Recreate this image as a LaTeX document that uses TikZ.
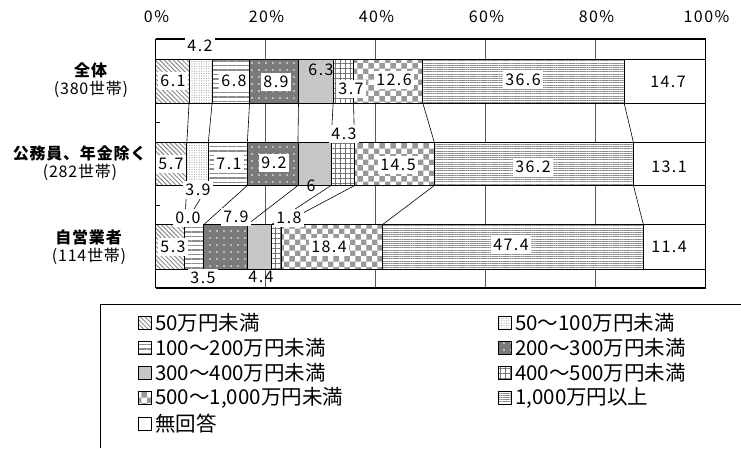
\documentclass[tikz,border=0pt]{standalone}
\usepackage{fontspec}
\setmainfont{Noto Sans CJK JP}
\newfontfamily\numfont[LetterSpace=9]{Noto Sans CJK JP}
\newfontfamily\catfont[LetterSpace=5]{Noto Sans CJK JP}
\usetikzlibrary{patterns,patterns.meta}

% percent -> x position on the bar axis
\newcommand{\xpc}[1]{155.5+5.5*#1}

\tikzset{
  seg/.style={draw=black, line width=0.9pt, preaction={fill=white}},
  under50/.style={seg, pattern={Lines[angle=-45,distance=3.2pt,line width=1pt]}, pattern color=black!45},
  from50/.style={seg, pattern={Dots[distance=2.4pt,radius=0.55pt]}, pattern color=black!40},
  from100/.style={seg, pattern={Lines[angle=0,distance=4.5pt,line width=1.8pt]}, pattern color=black!45},
  from200/.style={draw=black, line width=0.9pt, preaction={fill=black!52}, pattern={Dots[distance=7pt,radius=0.9pt]}, pattern color=white},
  from300/.style={draw=black, line width=0.9pt, fill=black!22},
  from400/.style={seg, pattern={Hatch[angle=0,distance=5pt,line width=0.8pt]}, pattern color=black!55},
  from500/.style={seg, pattern=checkerboard, pattern color=black!40},
  over1000/.style={seg, pattern={Lines[angle=0,distance=2.2pt,line width=0.9pt]}, pattern color=black!45},
  noans/.style={draw=black, line width=0.9pt, fill=white},
  val/.style={fill=white, inner xsep=2.5pt, inner ysep=3pt, font=\numfont\fontsize{16}{16}\selectfont},
  valbare/.style={inner sep=1pt, font=\numfont\fontsize{16}{16}\selectfont},
  axlbl/.style={font=\numfont\fontsize{16}{16}\selectfont},
  cat/.style={align=center, font=\catfont\fontsize{16}{18}\selectfont},
  legtxt/.style={anchor=west, inner sep=0pt, font=\fontsize{20.5}{20.5}\selectfont},
}

\begin{document}
\begin{tikzpicture}[x=1pt, y=-1pt]
  \useasboundingbox (0,0) rectangle (741,448);
  \fill[white] (0,0) rectangle (741,448);

  % grid and frame
  \foreach \p in {20,40,60,80}
    \draw[black!65, line width=0.8pt] ({\xpc{\p}},39) -- ({\xpc{\p}},288);
  \draw[line width=1.2pt] (155.5,39) -- (705.5,39);
  \draw[line width=1.2pt] (155.5,288) -- (705.5,288);
  \draw[line width=1.6pt] (705.5,39) -- (705.5,288);
  \draw[line width=1.8pt] (155.5,39) -- (155.5,288);
  \foreach \y in {122,205}
    \draw[line width=0.8pt] (155.5,\y) -- (160,\y);

  % axis labels
  \foreach \p in {0,20,40,60,80,100}
    \node[axlbl] (ax\p) at ({\xpc{\p}+1},17) {\p\%};

  % series lines
  \foreach \a/\b in {6.1/5.7, 10.3/9.6, 17.1/16.7, 26.0/25.9, 32.3/31.9, 36.0/36.2, 48.6/50.7, 85.2/86.9}
    \draw[line width=0.6pt] ({\xpc{\a}},103) -- ({\xpc{\b}},142.5);
  \foreach \a/\b in {5.7/5.3, 9.6/5.3, 16.7/8.8, 25.9/16.7, 31.9/21.1, 36.2/22.9, 50.7/41.3, 86.9/88.7}
    \draw[line width=0.6pt] ({\xpc{\a}},185.5) -- ({\xpc{\b}},224.5);

  % bars
  \foreach \a/\b/\s in {0/6.1/under50, 6.1/10.3/from50, 10.3/17.1/from100, 17.1/26.0/from200, 26.0/32.3/from300, 32.3/36.0/from400, 36.0/48.6/from500, 48.6/85.2/over1000, 85.2/100/noans}
    \path[\s] ({\xpc{\a}},59) rectangle ({\xpc{\b}},103);
  \foreach \a/\b/\s in {0/5.7/under50, 5.7/9.6/from50, 9.6/16.7/from100, 16.7/25.9/from200, 25.9/31.9/from300, 31.9/36.2/from400, 36.2/50.7/from500, 50.7/86.9/over1000, 86.9/100/noans}
    \path[\s] ({\xpc{\a}},142.5) rectangle ({\xpc{\b}},185.5);
  \foreach \a/\b/\s in {0/5.3/under50, 5.3/5.3/from50, 5.3/8.8/from100, 8.8/16.7/from200, 16.7/21.1/from300, 21.1/22.9/from400, 22.9/41.3/from500, 41.3/88.7/over1000, 88.7/100/noans}
    \path[\s] ({\xpc{\a}},224.5) rectangle ({\xpc{\b}},269.5);

  % values, all households
  \node[val] (a1) at (173,81) {6.1};
  \node[val] (a2) at (200,46) {4.2};
  \node[val] (a3) at (234,81) {6.8};
  \node[val] (a4) at (276,82) {8.9};
  \node[valbare] (a5) at (321,70) {6.3};
  \node[val] (a6) at (351,89) {3.7};
  \node[val] (a7) at (394,80) {12.6};
  \node[val] (a8) at (523,80) {36.6};
  \node[valbare] (a9) at (668,82) {14.7};
  % values, excl. civil servants / pensions
  \node[val] (b1) at (171,164) {5.7};
  \node[val] (b2) at (198,190) {3.9};
  \node[val] (b3) at (229,164) {7.1};
  \node[val] (b4) at (274,163) {9.2};
  \node[valbare] (b5) at (311,186) {6};
  \node[val] (b6) at (344,134) {4.3};
  \node[val] (b7) at (398,165) {14.5};
  \node[val] (b8) at (533,167) {36.2};
  \node[valbare] (b9) at (669,167) {13.1};
  % values, self-employed
  \node[val] (c1) at (173,247) {5.3};
  \node[val] (c2) at (188,218) {0.0};
  \node[val] (c3) at (203,278) {3.5};
  \node[val] (c4) at (236,217) {7.9};
  \node[valbare] (c5) at (261,277) {4.4};
  \node[val] (c6) at (289,218) {1.8};
  \node[val] (c7) at (329,247) {18.4};
  \node[val] (c8) at (511,245) {47.4};
  \node[valbare] (c9) at (669,247) {11.4};

  % categories
  \node[cat] (catA) at (91,80) {\textbf{全体}\\(380世帯)};
  \node[cat] (catB) at (80,163) {\textbf{公務員、年金除く}\\(282世帯)};
  \node[cat] (catC) at (89,247) {\textbf{自営業者}\\(114世帯)};

  % legend
  \draw[line width=0.9pt] (100,448) -- (100,304) -- (741,304);
  \foreach \y/\s/\t in {323/under50/50万円未満, 348/from100/100～200万円未満, 373/from300/300～400万円未満, 398/from500/{500～1,000万円未満}, 424/noans/無回答}{
    \path[\s, line width=0.7pt] (138,{\y-6.5}) rectangle (151,{\y+6.5});
    \node[legtxt] (lg\y) at (155,\y) {\t};
  }
  \foreach \y/\s/\t in {323/from50/50～100万円未満, 348/from200/200～300万円未満, 373/from400/400～500万円未満, 398/over1000/{1,000万円以上}}{
    \path[\s, line width=0.7pt] (498,{\y-6.5}) rectangle (511,{\y+6.5});
    \node[legtxt] (lr\y) at (515,\y) {\t};
  }
\end{tikzpicture}
\end{document}
